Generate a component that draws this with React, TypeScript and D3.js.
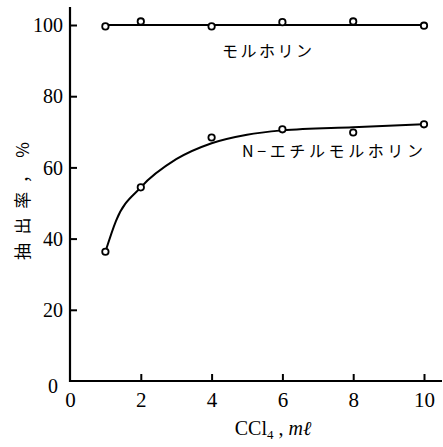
import React, { useRef, useEffect } from "react";
import { select, scaleLinear, axisLeft, axisBottom, line, curveMonotoneX } from "d3";

// CCl4 volume (ml)
const volumes = [1, 2, 4, 6, 8, 10];
// extraction rate (%)
const morpholine = [99.6, 101, 99.6, 100.8, 101, 99.8];
const ethylMorpholine = [36.3, 54.4, 68.4, 70.7, 69.8, 72.1];

// fitted curves drawn through the points
const morpholineFitX = [1, 10];
const morpholineFitY = [100, 100];
const ethylFitX = [1, 1.3, 2, 3, 4, 5, 6, 8, 10];
const ethylFitY = [36.3, 45, 54.4, 62.3, 66.8, 69.2, 70.4, 71.3, 72.1];

const xTicks = [0, 2, 4, 6, 8, 10];
const yTicks = [0, 20, 40, 60, 80, 100];

const labelMorpholine = "モルホリン";
const labelEthyl = "N−エチルモルホリン";
const yTitle = "抽出率，%";

const W = 443, H = 447;

function App() {
  const svgRef = useRef(null);

  useEffect(() => {
    const svg = select(svgRef.current);
    svg.selectAll("*").remove();

    const xscale = scaleLinear().domain([0, 10]).range([70, 424]);
    const yscale = scaleLinear().domain([0, 100]).range([381, 25]);

    const serif = "Liberation Serif";
    const jp = "Noto Sans CJK JP";

    // y axis
    const yaxis = axisLeft(yscale).tickValues(yTicks).tickSize(-7).tickPadding(7);
    const gy = svg.append("g").attr("transform", "translate(70,0)").call(yaxis);
    gy.attr("font-family", serif).attr("font-size", 20);
    gy.select(".domain").remove();
    gy.selectAll("line").attr("stroke", "#000").attr("stroke-width", 2);
    gy.selectAll("text")
      .attr("fill", "#000")
      .attr("dy", d => (d === 0 ? "0.55em" : "0.33em"))
      .attr("x", d => (d === 0 ? -12 : -7));
    gy.selectAll(".tick").filter(d => d === 0).select("line").remove();

    svg.append("line")
      .attr("x1", 70).attr("x2", 70)
      .attr("y1", 7).attr("y2", 382)
      .attr("stroke", "#000").attr("stroke-width", 2.2);

    // x axis
    const xaxis = axisBottom(xscale).tickValues(xTicks).tickSize(-7).tickPadding(11);
    const gx = svg.append("g").attr("transform", "translate(0,381)").call(xaxis);
    gx.attr("font-family", serif).attr("font-size", 21);
    gx.select(".domain").remove();
    gx.selectAll("line").attr("stroke", "#000").attr("stroke-width", 2);
    gx.selectAll("text").attr("fill", "#000");
    gx.selectAll(".tick").filter(d => d === 0).select("line").remove();

    svg.append("line")
      .attr("x1", 69).attr("x2", 442)
      .attr("y1", 381).attr("y2", 381)
      .attr("stroke", "#000").attr("stroke-width", 2.2);

    // fitted lines
    const fitLine = line().x(d => xscale(d[0])).y(d => yscale(d[1])).curve(curveMonotoneX);
    svg.append("path")
      .attr("d", fitLine(morpholineFitX.map((x, i) => [x, morpholineFitY[i]])))
      .attr("fill", "none").attr("stroke", "#000").attr("stroke-width", 2);
    svg.append("path")
      .attr("d", fitLine(ethylFitX.map((x, i) => [x, ethylFitY[i]])))
      .attr("fill", "none").attr("stroke", "#000").attr("stroke-width", 2);

    // markers
    [morpholine, ethylMorpholine].forEach(series => {
      svg.append("g")
        .selectAll("circle")
        .data(series)
        .join("circle")
        .attr("cx", (d, i) => xscale(volumes[i]))
        .attr("cy", d => yscale(d))
        .attr("r", 3.2)
        .attr("fill", "#fff")
        .attr("stroke", "#000")
        .attr("stroke-width", 1.8);
    });

    // series labels
    svg.append("text")
      .attr("x", 267).attr("y", 57)
      .attr("text-anchor", "middle")
      .attr("font-family", jp).attr("font-size", 16)
      .attr("textLength", 90)
      .text(labelMorpholine);
    svg.append("text")
      .attr("x", 242).attr("y", 157)
      .attr("font-family", jp).attr("font-size", 16)
      .attr("textLength", 181)
      .text(labelEthyl);

    // y title
    svg.append("text")
      .attr("transform", "translate(29,201) rotate(-90)")
      .attr("text-anchor", "middle")
      .attr("font-family", jp).attr("font-size", 17)
      .attr("textLength", 118)
      .text(yTitle);

    // x title: CCl4 , ml
    const xt = svg.append("text")
      .attr("x", 273).attr("y", 435)
      .attr("text-anchor", "middle")
      .attr("font-family", serif).attr("font-size", 20);
    xt.append("tspan").text("CCl");
    xt.append("tspan").attr("font-size", 13).attr("dy", 4).text("4");
    xt.append("tspan").attr("dy", -4).text("\u00a0,\u00a0");
    xt.append("tspan").attr("font-style", "italic").text("mℓ");
  }, []);

  return (
    <div style={{ position: "absolute", left: 0, top: 0 }}>
      <svg ref={svgRef} width={W} height={H} style={{ display: "block", background: "#fff" }}></svg>
    </div>
  );
}

export default App;
